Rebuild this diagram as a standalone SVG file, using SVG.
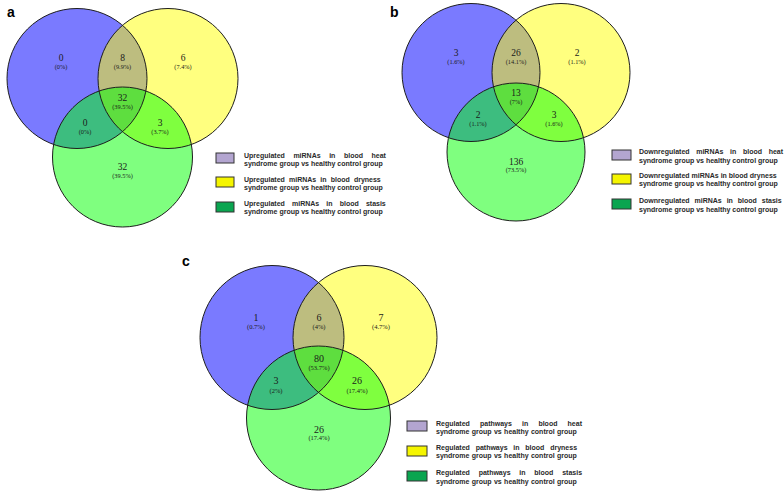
<svg xmlns="http://www.w3.org/2000/svg" width="784" height="493" viewBox="0 0 784 493">
<style>
.bg{fill:#ffffff}
.fb{fill:#0000ff;fill-opacity:0.52}
.fy{fill:#ffff00;fill-opacity:0.5}
.fg{fill:#00ff00;fill-opacity:0.5}
.ol{fill:none;stroke:#1e1e1e;stroke-width:1}
.n{font-family:"Liberation Serif","DejaVu Serif",serif;font-size:9.5px;fill:#1a1a1a;text-anchor:middle}
.nc{font-family:"Liberation Serif","DejaVu Serif",serif;font-size:10px;fill:#1a1a1a;text-anchor:middle}
.p{font-family:"Liberation Serif","DejaVu Serif",serif;font-size:6.3px;fill:#1a1a1a;text-anchor:middle}
.pc{font-family:"Liberation Serif","DejaVu Serif",serif;font-size:6.5px;fill:#1a1a1a;text-anchor:middle}
.lab{font-family:"Liberation Sans",Arial,sans-serif;font-size:14px;font-weight:bold;fill:#000}
.lg{font-family:"Liberation Sans",Arial,sans-serif;font-size:7px;font-weight:bold;fill:#2a2a2a}
.bx{stroke:#333;stroke-width:1}
.k1{fill:#b3a5d0}
.k2{fill:#f5f500}
.k3{fill:#0aa550}
</style>
<rect class="bg" x="0" y="0" width="784" height="493"/>
<g id="connectors"/>

<!-- Panel a -->
<g id="panel-a">
  <text class="lab" x="7" y="17">a</text>
  <g id="a-heat"><circle class="fb" cx="77" cy="78.5" r="70"/></g>
  <g id="a-dryness"><circle class="fy" cx="168" cy="78.5" r="70"/></g>
  <g id="a-stasis"><circle class="fg" cx="122.5" cy="157" r="70"/></g>
  <g id="a-outlines">
    <circle class="ol" cx="77" cy="78.5" r="70"/>
    <circle class="ol" cx="168" cy="78.5" r="70"/>
    <circle class="ol" cx="122.5" cy="157" r="70"/>
  </g>
  <g id="a-labels">
    <text class="n" x="61" y="61.3">0</text><text class="p" x="61" y="69.1">(0%)</text>
    <text class="n" x="122.5" y="61.3">8</text><text class="p" x="122.5" y="69.1">(9.9%)</text>
    <text class="n" x="183" y="61.3">6</text><text class="p" x="183" y="69.1">(7.4%)</text>
    <text class="n" x="122.5" y="101.3">32</text><text class="p" x="122.5" y="109.1">(39.5%)</text>
    <text class="n" x="85" y="126.3">0</text><text class="p" x="85" y="134.1">(0%)</text>
    <text class="n" x="160" y="126.3">3</text><text class="p" x="160" y="134.1">(3.7%)</text>
    <text class="n" x="122.5" y="170.3">32</text><text class="p" x="122.5" y="178.1">(39.5%)</text>
  </g>
  <g id="a-legend">
    <rect class="bx k1" x="216" y="153" width="18" height="10"/>
    <text class="lg" x="244" y="157.5" style="word-spacing:6.6px">Upregulated miRNAs in blood heat</text>
    <text class="lg" x="244" y="165.5">syndrome group vs healthy control group</text>
    <rect class="bx k2" x="216" y="177" width="18" height="10"/>
    <text class="lg" x="244" y="181.5" style="word-spacing:2.2px">Upregulated miRNAs in blood dryness</text>
    <text class="lg" x="244" y="189.5">syndrome group vs healthy control group</text>
    <rect class="bx k3" x="216" y="202" width="18" height="10"/>
    <text class="lg" x="244" y="206" style="word-spacing:5.2px">Upregulated miRNAs in blood stasis</text>
    <text class="lg" x="244" y="214">syndrome group vs healthy control group</text>
  </g>
</g>

<!-- Panel b -->
<g id="panel-b">
  <text class="lab" x="390" y="17">b</text>
  <g id="b-heat"><circle class="fb" cx="471" cy="72.5" r="69"/></g>
  <g id="b-dryness"><circle class="fy" cx="561" cy="72.5" r="69"/></g>
  <g id="b-stasis"><circle class="fg" cx="516" cy="152" r="69"/></g>
  <g id="b-outlines">
    <circle class="ol" cx="471" cy="72.5" r="69"/>
    <circle class="ol" cx="561" cy="72.5" r="69"/>
    <circle class="ol" cx="516" cy="152" r="69"/>
  </g>
  <g id="b-labels">
    <text class="n" x="456" y="55.8">3</text><text class="p" x="456" y="63.8">(1.6%)</text>
    <text class="n" x="516" y="55.8">26</text><text class="p" x="516" y="63.8">(14.1%)</text>
    <text class="n" x="577" y="55.8">2</text><text class="p" x="577" y="63.8">(1.1%)</text>
    <text class="n" x="516" y="96.3">13</text><text class="p" x="516" y="104.3">(7%)</text>
    <text class="n" x="478" y="118">2</text><text class="p" x="478" y="126">(1.1%)</text>
    <text class="n" x="554" y="118">3</text><text class="p" x="554" y="126">(1.6%)</text>
    <text class="n" x="516" y="164.5">136</text><text class="p" x="516" y="172.4">(73.5%)</text>
  </g>
  <g id="b-legend">
    <rect class="bx k1" x="612" y="150" width="19" height="10"/>
    <text class="lg" x="639" y="154" style="word-spacing:4.7px">Downregulated miRNAs in blood heat</text>
    <text class="lg" x="639" y="162.5">syndrome group vs healthy control group</text>
    <rect class="bx k2" x="612" y="174" width="19" height="10"/>
    <text class="lg" x="639" y="178">Downregulated miRNAs in blood dryness</text>
    <text class="lg" x="639" y="186">syndrome group vs healthy control group</text>
    <rect class="bx k3" x="612" y="199" width="19" height="10"/>
    <text class="lg" x="639" y="203" style="word-spacing:3.0px">Downregulated miRNAs in blood stasis</text>
    <text class="lg" x="639" y="211.5">syndrome group vs healthy control group</text>
  </g>
</g>

<!-- Panel c -->
<g id="panel-c">
  <text class="lab" x="182" y="266">c</text>
  <g id="c-heat"><circle class="fb" cx="272" cy="337.5" r="72"/></g>
  <g id="c-dryness"><circle class="fy" cx="365" cy="337.5" r="72"/></g>
  <g id="c-stasis"><circle class="fg" cx="318.5" cy="418" r="72"/></g>
  <g id="c-outlines">
    <circle class="ol" cx="272" cy="337.5" r="72"/>
    <circle class="ol" cx="365" cy="337.5" r="72"/>
    <circle class="ol" cx="318.5" cy="418" r="72"/>
  </g>
  <g id="c-labels">
    <text class="nc" x="256" y="320.5">1</text><text class="pc" x="256" y="329.2">(0.7%)</text>
    <text class="nc" x="319" y="320.5">6</text><text class="pc" x="319" y="329.2">(4%)</text>
    <text class="nc" x="381" y="320.5">7</text><text class="pc" x="381" y="329.2">(4.7%)</text>
    <text class="nc" x="319" y="361.5">80</text><text class="pc" x="319" y="370.2">(53.7%)</text>
    <text class="nc" x="276" y="384.3">3</text><text class="pc" x="276" y="392.6">(2%)</text>
    <text class="nc" x="357" y="384.3">26</text><text class="pc" x="357" y="392.6">(17.4%)</text>
    <text class="nc" x="319" y="432.5">26</text><text class="pc" x="319" y="440.2">(17.4%)</text>
  </g>
  <g id="c-legend">
    <rect class="bx k1" x="407" y="421" width="20" height="10"/>
    <text class="lg" x="436" y="425.5" style="word-spacing:8.2px">Regulated pathways in blood heat</text>
    <text class="lg" x="436" y="434" style="word-spacing:0.4px">syndrome group vs healthy control group</text>
    <rect class="bx k2" x="407" y="446" width="20" height="10"/>
    <text class="lg" x="436" y="449.5" style="word-spacing:3.85px">Regulated pathways in blood dryness</text>
    <text class="lg" x="436" y="457.5" style="word-spacing:0.4px">syndrome group vs healthy control group</text>
    <rect class="bx k3" x="407" y="471" width="20" height="10"/>
    <text class="lg" x="436" y="474.5" style="word-spacing:6.85px">Regulated pathways in blood stasis</text>
    <text class="lg" x="436" y="483.5" style="word-spacing:0.4px">syndrome group vs healthy control group</text>
  </g>
</g>
</svg>
